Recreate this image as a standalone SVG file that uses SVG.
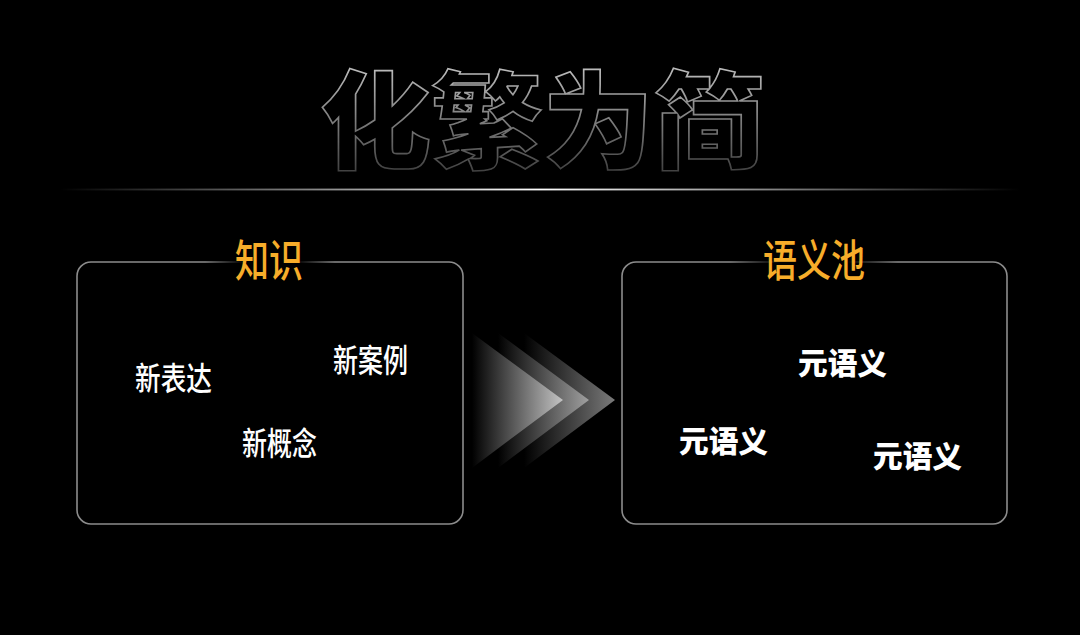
<svg xmlns="http://www.w3.org/2000/svg" width="1080" height="635" viewBox="0 0 1080 635">
  <defs>
    <linearGradient id="titleStroke" x1="0" y1="0" x2="0" y2="1">
      <stop offset="0" stop-color="#e0e0e0"/>
      <stop offset="1" stop-color="#2a2a2a"/>
    </linearGradient>
    <linearGradient id="hline" x1="60" y1="0" x2="1020" y2="0" gradientUnits="userSpaceOnUse">
      <stop offset="0" stop-color="#ffffff" stop-opacity="0"/>
      <stop offset="0.5" stop-color="#ffffff" stop-opacity="1"/>
      <stop offset="1" stop-color="#ffffff" stop-opacity="0"/>
    </linearGradient>
    <linearGradient id="fadeGap" x1="0" y1="0" x2="1" y2="0">
      <stop offset="0" stop-color="#000" stop-opacity="0"/>
      <stop offset="0.3" stop-color="#000" stop-opacity="1"/>
      <stop offset="0.7" stop-color="#000" stop-opacity="1"/>
      <stop offset="1" stop-color="#000" stop-opacity="0"/>
    </linearGradient>
    <linearGradient id="chev1" x1="0" y1="0" x2="1" y2="0">
      <stop offset="0" stop-color="#000"/>
      <stop offset="1" stop-color="#c4c4c4"/>
    </linearGradient>
    <linearGradient id="chev2" x1="0" y1="0" x2="1" y2="0">
      <stop offset="0" stop-color="#000"/>
      <stop offset="1" stop-color="#a0a0a0"/>
    </linearGradient>
    <linearGradient id="chev3" x1="0" y1="0" x2="1" y2="0">
      <stop offset="0" stop-color="#000"/>
      <stop offset="1" stop-color="#7a7a7a"/>
    </linearGradient>
  </defs>
  <style>
    .box { fill: none; stroke: #8c8c8c; stroke-width: 1.6; }
    .head { font-family: "Noto Sans CJK SC", sans-serif; font-weight: 500; fill: #f7ad2a; font-size: 44px; }
    .item { font-family: "Noto Sans CJK SC", sans-serif; font-weight: 500; fill: #ffffff; font-size: 32px; }
    .meta { font-family: "Noto Sans CJK SC", sans-serif; font-weight: 900; fill: #ffffff; font-size: 30px; }
  </style>
  <rect width="1080" height="635" fill="#000"/>

  <g id="title">
    <text x="320" y="160" font-family="'Noto Sans CJK SC', sans-serif" font-weight="900" font-size="106" fill="#000" stroke="url(#titleStroke)" stroke-width="1.6" textLength="445" lengthAdjust="spacingAndGlyphs">化繁为简</text>
    <rect x="60" y="188.6" width="960" height="1.8" fill="url(#hline)"/>
  </g>

  <g id="knowledge">
    <rect class="box" x="77" y="262" width="386" height="262" rx="14"/>
    <rect x="205" y="258" width="130" height="8" fill="url(#fadeGap)"/>
    <text class="head" x="235" y="277" textLength="68" lengthAdjust="spacingAndGlyphs">知识</text>
    <text class="item" x="135" y="390" textLength="77" lengthAdjust="spacingAndGlyphs">新表达</text>
    <text class="item" x="333" y="372" textLength="75" lengthAdjust="spacingAndGlyphs">新案例</text>
    <text class="item" x="242" y="455" textLength="75" lengthAdjust="spacingAndGlyphs">新概念</text>
  </g>

  <g id="connectors">
    <polygon points="524,333 615,400 524,468" fill="url(#chev3)"/>
    <polygon points="498,333 589,400 498,468" fill="url(#chev2)"/>
    <polygon points="472,333 563,400 472,468" fill="url(#chev1)"/>
  </g>

  <g id="semantic-pool">
    <rect class="box" x="622" y="262" width="385" height="262" rx="14"/>
    <rect x="730" y="258" width="168" height="8" fill="url(#fadeGap)"/>
    <text class="head" x="763" y="277" textLength="102" lengthAdjust="spacingAndGlyphs">语义池</text>
    <text class="meta" x="798" y="374" textLength="89" lengthAdjust="spacingAndGlyphs">元语义</text>
    <text class="meta" x="679" y="452" textLength="89" lengthAdjust="spacingAndGlyphs">元语义</text>
    <text class="meta" x="873" y="467" textLength="89" lengthAdjust="spacingAndGlyphs">元语义</text>
  </g>
</svg>
